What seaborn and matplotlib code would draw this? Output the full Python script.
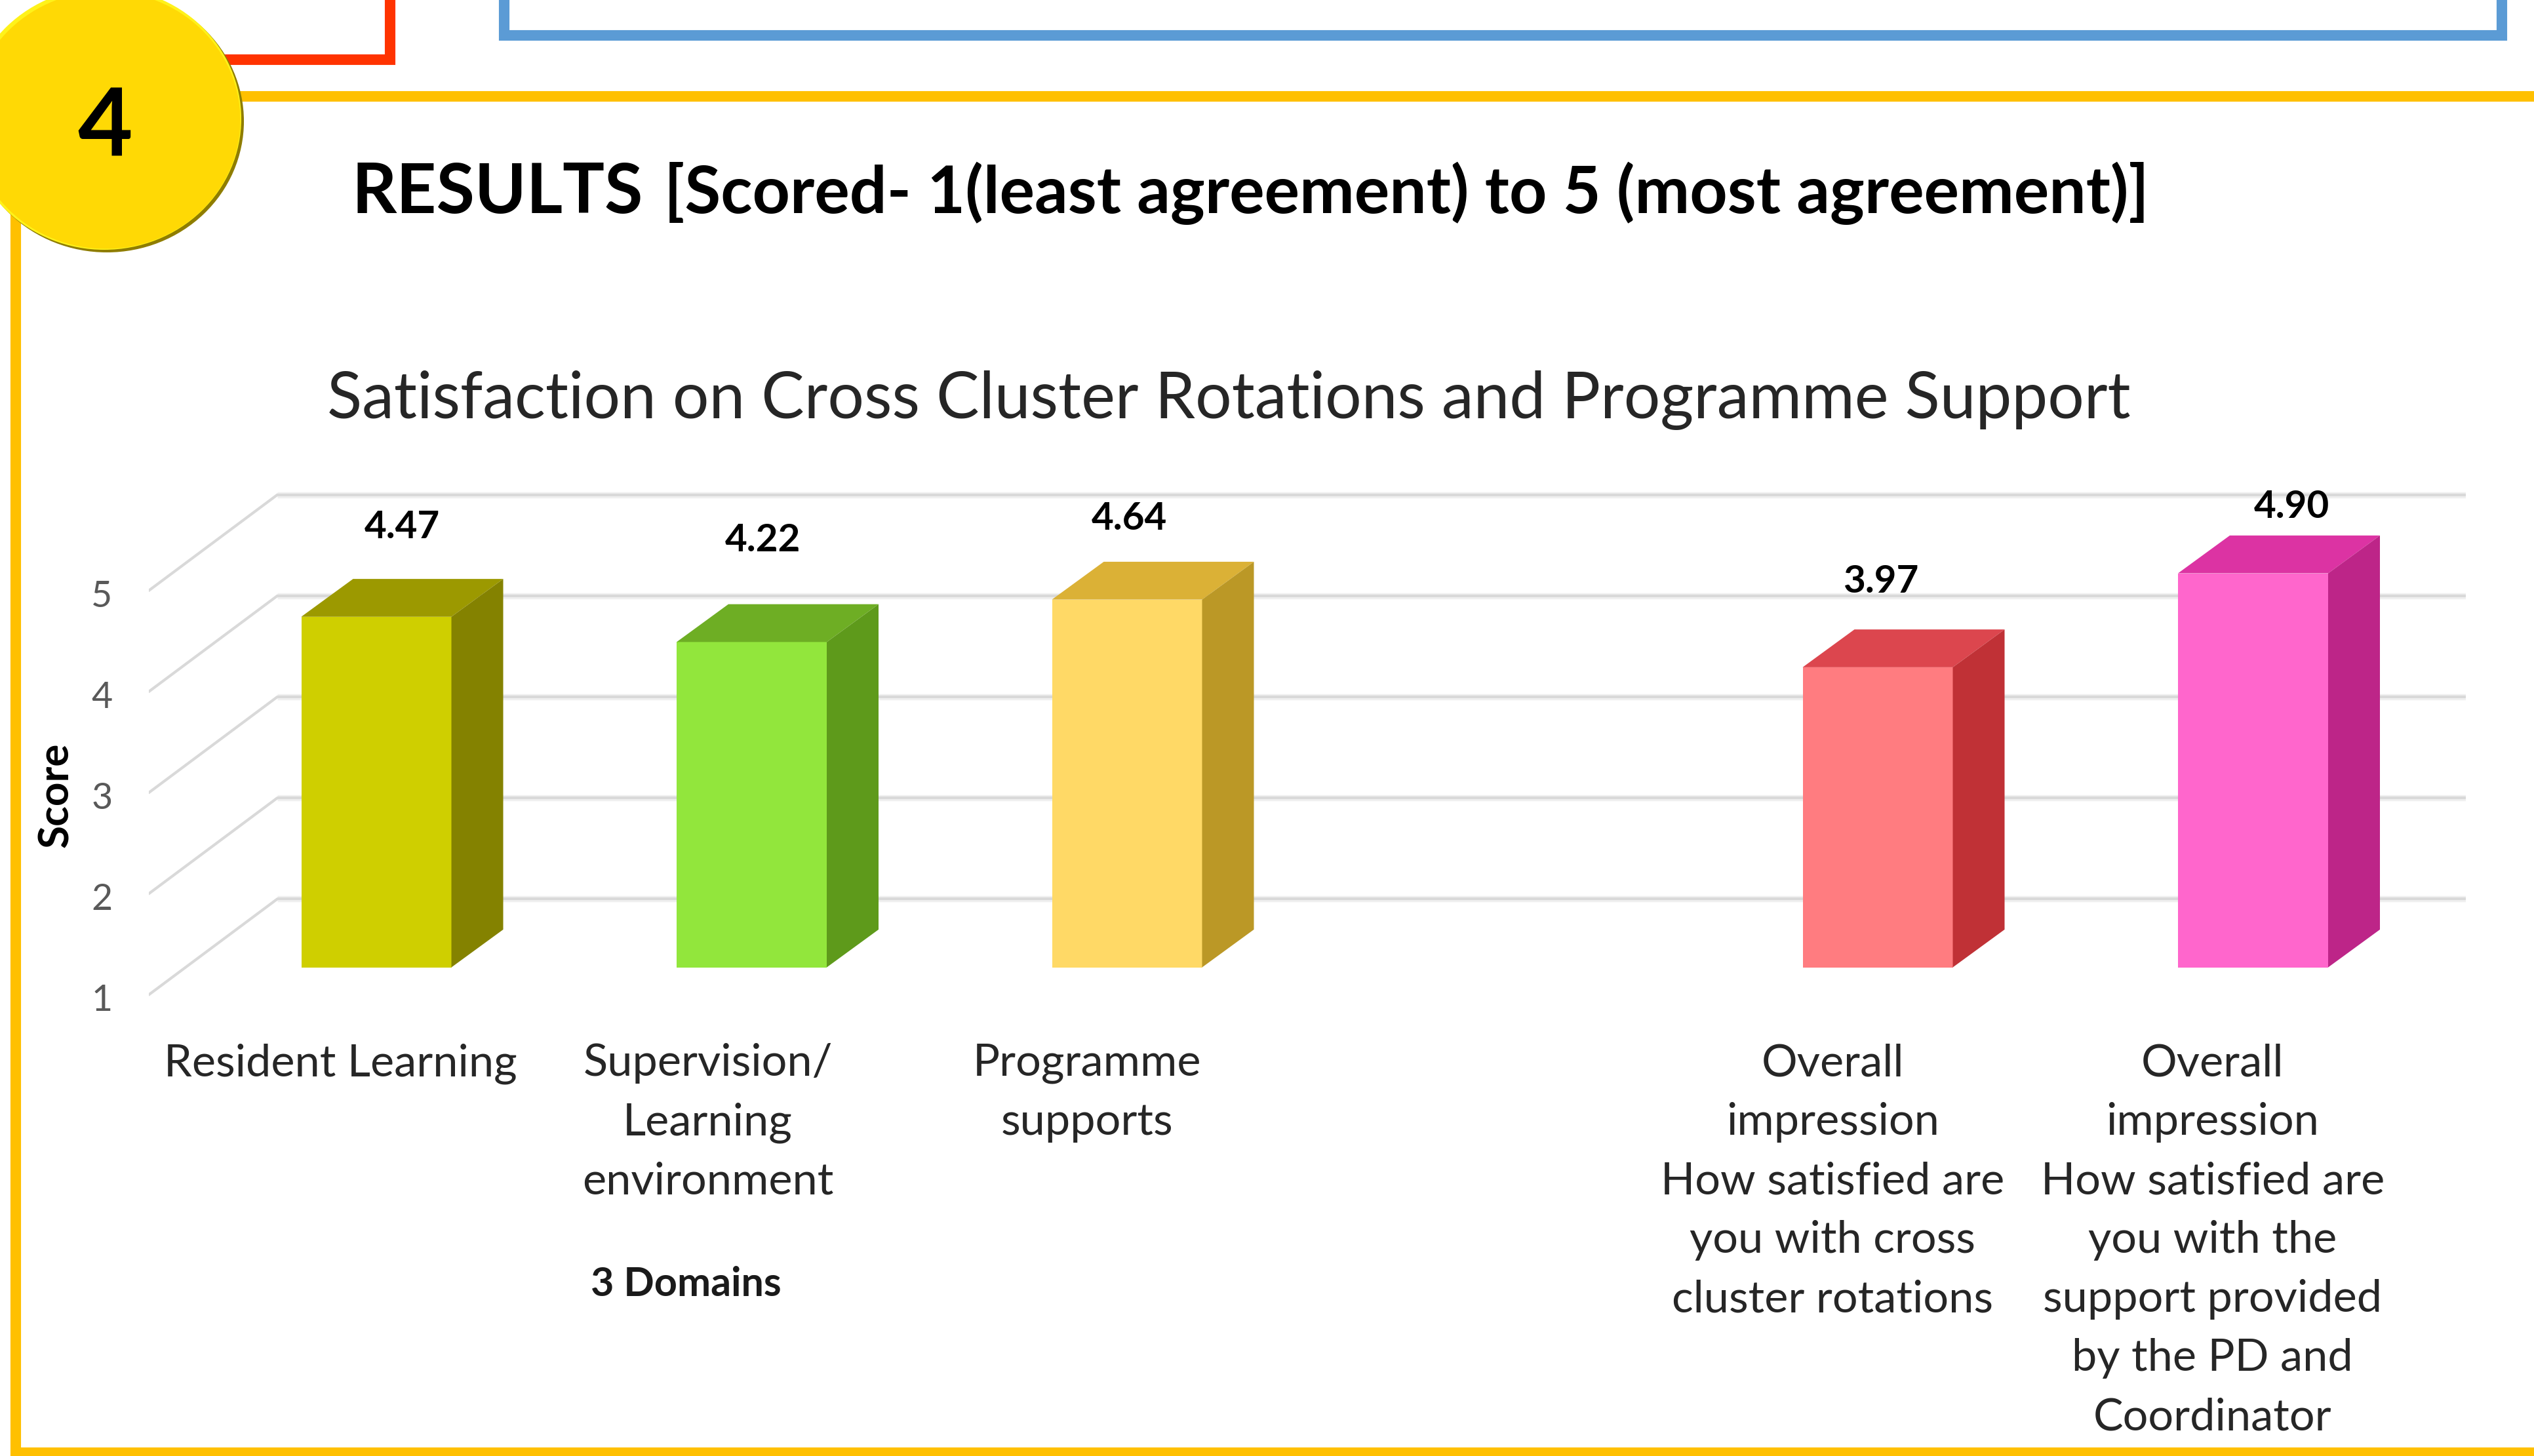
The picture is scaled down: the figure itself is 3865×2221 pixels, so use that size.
import numpy as np
import pandas as pd
import seaborn as sns
import matplotlib.pyplot as plt
from matplotlib.patches import Ellipse, Rectangle

categories = ['Resident Learning', 'Supervision/\nLearning\nenvironment', 'Programme\nsupports',
	'Overall\nimpression\nHow satisfied are\nyou with cross\ncluster rotations',
	'Overall\nimpression\nHow satisfied are\nyou with the\nsupport provided\nby the PD and\nCoordinator']
scores = [4.47, 4.22, 4.64, 3.97, 4.90]
score_labels = ['4.47', '4.22', '4.64', '3.97', '4.90']
y_ticks = [1, 2, 3, 4, 5]
front_colors = ['#CFCF00', '#92E63C', '#FFD966', '#FF7C80', '#FF66CC']
top_colors = ['#9C9900', '#6EAE24', '#DBB136', '#DC464E', '#DC33A3']
side_colors = ['#848200', '#5E9A1B', '#BB9826', '#C03136', '#BD2588']
# hand placed labels in the original, px offsets from bar centre/top
label_dx = [39, 17, 3, 5, 59]
label_dy = [136, 155, 123, 130, 101]
tick_shift = [-0.096, -0.117, -0.107, -0.120, -0.108]

W, H, DPI = 3866, 2221, 200
BLANK = ' '
order = categories[:3] + [BLANK] + categories[3:]

# px layout of the fake 3d chart
PX_X0, PX_DX = 574, 572.5
PX_Y1, PX_DY = 1480, 155
AX_L, AX_R, AX_T, AX_B = 227, 3761, 700, 1522
DEPTH_X, DEPTH_Y = 79 / PX_DX, 58 / PX_DY
GRID_BACK, GRID_FRONT = 0.677, -0.271
GRID_X_BACK = (423 - PX_X0) / PX_DX

sns.set_theme(style='white')
plt.rcParams['font.family'] = ['Lato', 'DejaVu Sans']

fig = plt.figure(figsize=(W / DPI, H / DPI), dpi=DPI, facecolor='white')

# page furniture, in pixels
bg = fig.add_axes([0, 0, 1, 1], zorder=3)
bg.set_xlim(0, W)
bg.set_ylim(H, 0)
bg.axis('off')
bg.patch.set_alpha(0)
bg.add_patch(Rectangle((-20, -20), 615, 111, fc='none', ec='#FF3300', lw=5.8))
bg.add_patch(Rectangle((769, -20), 3047, 74, fc='none', ec='#5B9BD5', lw=5.8))
bg.add_patch(Rectangle((24, 147), 3845, 2069, fc='none', ec='#FFC000', lw=5.8))
bg.add_patch(Ellipse((163, 185), 418, 400, fc='#8F7D00', ec='none'))
bg.add_patch(Ellipse((159, 181), 418, 400, fc='#FFF21A', ec='none'))
bg.add_patch(Ellipse((161, 183), 411, 393, fc='#FFD905', ec='none'))
bg.text(160, 196, '4', fontsize=52, fontweight='bold', color='black', ha='center', va='center')
bg.text(537, 325, 'RESULTS', fontsize=38.3, fontweight='bold', color='black', ha='left', va='baseline')
bg.text(1013, 325, '[Scored- 1(least agreement) to 5 (most agreement)]', fontsize=36, fontweight='bold',
	color='black', ha='left', va='baseline')
bg.text(1874, 611, 'Satisfaction on Cross Cluster Rotations and Programme Support', fontsize=35.3,
	color='#262626', ha='center', va='center')
bg.text(1046, 1959, '3 Domains', fontsize=22, fontweight='bold', color='#1A1A1A', ha='center', va='center')
bg.text(86, 1213, 'Score', fontsize=23, fontweight='bold', color='black', rotation=90, ha='center', va='center')

ax = fig.add_axes([AX_L / W, 1 - AX_B / H, (AX_R - AX_L) / W, (AX_B - AX_T) / H], zorder=2)
ax.patch.set_alpha(0)

df = pd.DataFrame({'category': categories, 'score': scores})
palette = dict(zip(categories, front_colors))
sns.barplot(data=df, x='category', y='score', hue='category', order=order, hue_order=categories,
	palette=palette, width=0.4, saturation=1, legend=False, linewidth=0, ax=ax, zorder=3)

ax.set_xlim((AX_L - PX_X0) / PX_DX, (AX_R - PX_X0) / PX_DX)
ax.set_ylim(1 + (PX_Y1 - AX_B) / PX_DY, 1 + (PX_Y1 - AX_T) / PX_DY)

# bars start at the axis floor of 1, then get their fake depth
bars = [p for p in ax.patches if p.get_height() > 0]
for bar, top, side, val in zip(bars, top_colors, side_colors, scores):
	bar.set_y(1)
	bar.set_height(val - 1)
	x0 = bar.get_x()
	x1 = x0 + bar.get_width()
	ax.fill([x0, x1, x1 + DEPTH_X, x0 + DEPTH_X], [val, val, val + DEPTH_Y, val + DEPTH_Y],
		color=top, lw=0, zorder=3)
	ax.fill([x1, x1 + DEPTH_X, x1 + DEPTH_X, x1], [1, 1 + DEPTH_Y, val + DEPTH_Y, val],
		color=side, lw=0, zorder=3)

for v in y_ticks:
	ax.plot([GRID_X_BACK, ax.get_xlim()[1]], [v + GRID_BACK] * 2, color='#F0F0F0', lw=3.4, zorder=1,
		solid_capstyle='butt')
	ax.plot([GRID_X_BACK, ax.get_xlim()[1]], [v + GRID_BACK] * 2, color='#D9D9D9', lw=1.5, zorder=1.5,
		solid_capstyle='butt')
	ax.plot([ax.get_xlim()[0], GRID_X_BACK], [v + GRID_FRONT, v + GRID_BACK], color='#D9D9D9', lw=1.5,
		zorder=1, solid_capstyle='round')

for i, (bar, txt, val) in enumerate(zip(bars, score_labels, scores)):
	ax.annotate(txt, (bar.get_x() + bar.get_width() / 2, val), xytext=(label_dx[i] * 72 / DPI, label_dy[i] * 72 / DPI),
		textcoords='offset points', ha='center', va='center', fontsize=21, fontweight='bold',
		color='black', zorder=5)

tick_pos = [order.index(c) + s for c, s in zip(categories, tick_shift)]
ax.set_xticks(tick_pos)
ax.set_xticklabels(categories, fontsize=24.6, color='#262626', linespacing=1.56)
ax.set_yticks([v + GRID_FRONT - 0.03 for v in y_ticks])
ax.set_yticklabels(y_ticks, fontsize=20, color='#595959')
ax.tick_params(axis='x', length=0, pad=25)
ax.tick_params(axis='y', length=0, pad=20)
ax.set_xlabel('')
ax.set_ylabel('')
sns.despine(ax=ax, left=True, bottom=True)

plt.savefig('out.png', dpi=DPI)
